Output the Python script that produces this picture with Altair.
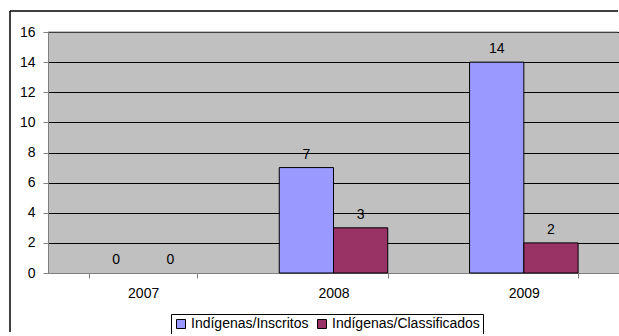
import altair as alt
import pandas as pd

# Indigenous candidates per year: enrolled vs. classified
years = ["2007", "2008", "2009"]
inscritos = [0, 7, 14]
classificados = [0, 3, 2]
series_names = ["Indígenas/Inscritos", "Indígenas/Classificados"]
series_colors = ["#9999FF", "#993366"]

rows = []
for i, y in enumerate(years):
    rows.append({"ano": y, "serie": series_names[0], "valor": inscritos[i]})
    rows.append({"ano": y, "serie": series_names[1], "valor": classificados[i]})
df = pd.DataFrame(rows)

FONT = "Liberation Sans"
FS = 14

x_enc = alt.X(
    "ano:N",
    sort=years,
    title=None,
    scale=alt.Scale(paddingInner=0.43, paddingOuter=0.215),
    axis=alt.Axis(
        labelAngle=0,
        tickBand="extent",
        tickColor="#808080",
        tickSize=5,
        domainColor="#808080",
        labelFontSize=FS,
        labelFont=FONT,
        labelColor="black",
        labelPadding=8,
        grid=False,
    ),
)
xoff = alt.XOffset("serie:N", sort=series_names)
y_enc = alt.Y(
    "valor:Q",
    title=None,
    scale=alt.Scale(domain=[0, 16], nice=False),
    axis=alt.Axis(
        values=list(range(0, 17, 2)),
        grid=True,
        gridColor="black",
        gridWidth=1,
        gridOpacity=1,
        tickColor="#808080",
        tickSize=5,
        domainColor="#808080",
        labelFontSize=FS,
        labelFont=FONT,
        labelColor="black",
        labelPadding=8,
    ),
)
color_enc = alt.Color(
    "serie:N",
    sort=series_names,
    scale=alt.Scale(domain=series_names, range=series_colors),
    legend=alt.Legend(
        title=None,
        orient="none",
        legendX=123,
        legendY=282,
        direction="horizontal",
        strokeColor="black",
        fillColor="white",
        padding=3,
        labelFontSize=FS,
        labelFont=FONT,
        labelColor="black",
        symbolType="square",
        symbolSize=81,
        symbolStrokeColor="black",
        symbolStrokeWidth=1,
        symbolOpacity=1,
        columnPadding=6,
        labelOffset=3,
    ),
)

base = alt.Chart(df)

# zero-valued bars are not drawn at all
bars = base.transform_filter("datum.valor > 0").mark_bar(
    stroke="black", strokeWidth=1, opacity=1
).encode(x=x_enc, xOffset=xoff, y=y_enc, color=color_enc)

labels = base.mark_text(
    baseline="alphabetic", dy=-9, fontSize=FS, font=FONT, color="black"
).encode(x=x_enc, xOffset=xoff, y=y_enc, text="valor:Q")

# outer frame of the figure: its left and top edges run out to the canvas border
one = alt.Chart(pd.DataFrame({"k": [0]}))
frame_left = one.mark_rule(color="black", strokeWidth=1.5).encode(
    x=alt.value(-38), y=alt.value(-21), y2=alt.value(300)
)
frame_top = one.mark_rule(color="black", strokeWidth=1.5).encode(
    x=alt.value(-38), x2=alt.value(570), y=alt.value(-21)
)
plot_top = one.mark_rule(color="#808080", strokeWidth=1).encode(
    x=alt.value(0), x2=alt.value(570), y=alt.value(0)
)

chart = (
    alt.layer(bars, labels, plot_top, frame_left, frame_top)
    .properties(
        width=571,
        height=241,
        autosize=alt.AutoSizeParams(type="none"),
        padding={"left": 48, "top": 32, "right": 0, "bottom": 61},
        background="white",
    )
    .configure_view(fill="#C0C0C0", stroke="transparent", strokeWidth=0)
)

chart.save("out.html", embed_options={"renderer": "svg", "actions": False})
